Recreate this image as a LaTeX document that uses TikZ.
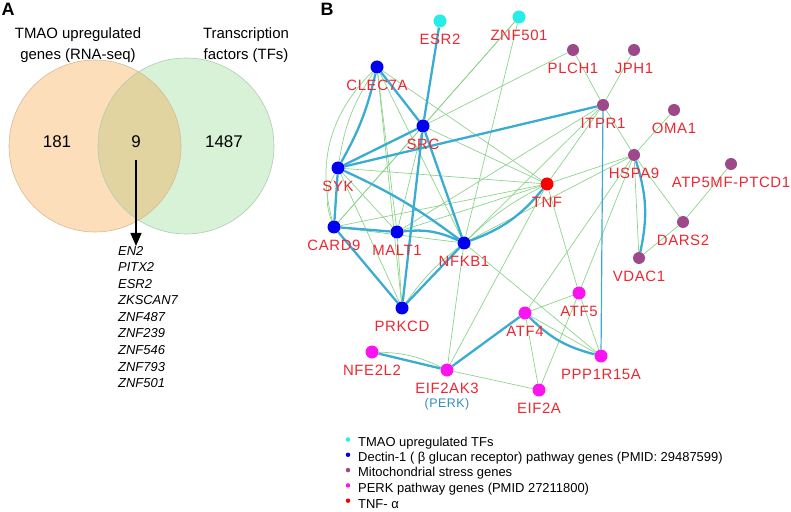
\documentclass[tikz,border=0pt]{standalone}
\usepackage{fontspec}
\setmainfont{Liberation Sans}
\newfontfamily\genelabelfont[LetterSpace=4]{Liberation Sans}
\usepackage{tikz}
\usetikzlibrary{positioning, arrows.meta, backgrounds}
\definecolor{vennleft}{RGB}{252, 222, 186}
\definecolor{vennright}{RGB}{216, 242, 216}
\definecolor{vennboth}{RGB}{226, 212, 160}
\definecolor{vennleftline}{RGB}{214, 186, 150}
\definecolor{vennrightline}{RGB}{176, 204, 176}
\definecolor{tfcyan}{RGB}{40, 236, 230}
\definecolor{dectinblue}{RGB}{0, 0, 238}
\definecolor{mitopurple}{RGB}{158, 72, 140}
\definecolor{perkmagenta}{RGB}{250, 20, 240}
\definecolor{tnfred}{RGB}{250, 0, 0}
\definecolor{genered}{RGB}{235, 40, 50}
\definecolor{perkblue}{RGB}{50, 140, 200}
\definecolor{edgeblue}{RGB}{58, 172, 210}
\definecolor{edgegreen}{RGB}{140, 212, 140}

\begin{document}
\begin{tikzpicture}[x=1bp, y=-1bp,
    gene/.style={circle, inner sep=0pt, minimum size=13bp},
    tfgene/.style={gene, fill=tfcyan},
    dectingene/.style={gene, fill=dectinblue},
    mitogene/.style={gene, fill=mitopurple, minimum size=12bp},
    perkgene/.style={gene, fill=perkmagenta},
    tnfgene/.style={gene, fill=tnfred},
    every label/.style={text=genered, inner sep=0pt, font=\genelabelfont\fontsize{15}{17}\selectfont},
    label distance=6.5bp,
    hublink/.style={line width=2.3bp, draw=edgeblue},
    link/.style={line width=0.7bp, draw=edgegreen},
    panel/.style={inner sep=0pt, font=\bfseries\fontsize{18}{18}\selectfont},
    venntitle/.style={inner sep=0pt, align=center, font=\fontsize{15}{21}\selectfont},
    vennnum/.style={inner sep=0pt, font=\fontsize{17}{17}\selectfont},
    legdot/.style={circle, inner sep=0pt, minimum size=4.5bp},
    legtext/.style={anchor=west, inner sep=0pt, font=\fontsize{13}{15}\selectfont}
]
    \useasboundingbox (0,0) rectangle (791,512);

    % Diagrama de Venn
    \node (panelA) [panel] at (8,9) {A};
    \fill[vennleft] (95,146) circle[radius=86];
    \fill[vennright] (186,146) circle[radius=88];
    \begin{scope}
        \clip (95,146) circle[radius=86];
        \fill[vennboth] (186,146) circle[radius=88];
    \end{scope}
    \draw[vennleftline, line width=0.6bp] (95,146) circle[radius=86];
    \draw[vennrightline, line width=0.6bp] (186,146) circle[radius=88];

    \node (tmaotitle) [venntitle] at (78,45) {TMAO upregulated\\genes (RNA-seq)};
    \node (tftitle) [venntitle] at (246,45) {Transcription\\factors (TFs)};
    \node (n181) [vennnum] at (57,142) {181};
    \node (nine) [vennnum] at (136,142) {9};
    \node (n1487) [vennnum] at (224,142) {1487};
    \node (tflist) [anchor=north west, inner sep=0pt, align=left,
        font=\itshape\fontsize{13}{16.6}\selectfont] at (118,246)
        {EN2\\PITX2\\ESR2\\ZKSCAN7\\ZNF487\\ZNF239\\ZNF546\\ZNF793\\ZNF501};
    \draw[-{Triangle[length=13bp, width=11bp]}, line width=1.3bp, shorten <=12bp]
        (nine) -- (nine |- tflist.north);

    % Red
    \node (panelB) [panel] at (327,9) {B};

    \node (esr2) [tfgene, label=below:ESR2] at (440,21) {};
    \node (znf501) [tfgene, label=below:ZNF501] at (519,17) {};

    \node (clec7a) [dectingene, label=below:CLEC7A] at (377,67) {};
    \node (src) [dectingene, label=below:SRC] at (423,126) {};
    \node (syk) [dectingene, label=below:SYK] at (338,168) {};
    \node (card9) [dectingene, label=below:CARD9] at (334,227) {};
    \node (malt1) [dectingene, label=below:MALT1] at (397,232) {};
    \node (nfkb1) [dectingene, label=below:NFKB1] at (464,243) {};
    \node (prkcd) [dectingene, label=below:PRKCD] at (402,308) {};

    \node (tnf) [tnfgene, label=below:TNF] at (547,184) {};

    \node (plch1) [mitogene, label=below:PLCH1] at (573,50) {};
    \node (jph1) [mitogene, label=below:JPH1] at (634,50) {};
    \node (itpr1) [mitogene, label=below:ITPR1] at (603,105) {};
    \node (oma1) [mitogene, label=below:OMA1] at (674,110) {};
    \node (hspa9) [mitogene, label=below:HSPA9] at (634,155) {};
    \node (atp5mf) [mitogene, label=below:ATP5MF-PTCD1] at (731,164) {};
    \node (dars2) [mitogene, label=below:DARS2] at (683,222) {};
    \node (vdac1) [mitogene, label=below:VDAC1] at (639,258) {};

    \node (atf5) [perkgene, label=below:ATF5] at (579,293) {};
    \node (atf4) [perkgene, label=below:ATF4] at (525,313) {};
    \node (nfe2l2) [perkgene, label=below:NFE2L2] at (372,352) {};
    \node (eif2ak3) [perkgene, label=below:EIF2AK3] at (447,370) {};
    \node (perk) [below=22bp of eif2ak3, inner sep=0pt, text=perkblue,
        font=\genelabelfont\fontsize{12.5}{14}\selectfont] {(PERK)};
    \node (ppp1r15a) [perkgene, label=below:PPP1R15A] at (601,356) {};
    \node (eif2a) [perkgene, label=below:EIF2A] at (539,390) {};

    \begin{scope}[on background layer]
        % enlaces finos
        \foreach \a/\b in {clec7a/malt1, clec7a/prkcd, clec7a/tnf, clec7a/nfkb1,
            znf501/src, znf501/nfkb1, znf501/card9, plch1/src,
            itpr1/plch1, itpr1/jph1, itpr1/hspa9, itpr1/tnf, itpr1/nfkb1, itpr1/malt1,
            hspa9/oma1, hspa9/dars2, hspa9/vdac1, hspa9/tnf, hspa9/atf4, hspa9/atf5, hspa9/nfkb1,
            dars2/atp5mf, dars2/vdac1,
            tnf/syk, tnf/card9, tnf/malt1, tnf/src, tnf/atf5, tnf/eif2ak3,
            nfkb1/ppp1r15a, nfkb1/eif2ak3, nfkb1/card9,
            src/card9, src/malt1, syk/prkcd, syk/malt1, prkcd/malt1,
            atf4/atf5, atf5/ppp1r15a, atf4/eif2a, atf5/eif2a, eif2ak3/eif2a, atf4/ppp1r15a}
            \draw[link] (\a) -- (\b);
        \draw[link] (clec7a) to[bend right=12] (syk);
        \draw[link] (syk) to[bend right=25] (card9);
        \draw[link] (clec7a) to[bend right=30] (card9);
        \draw[link] (nfkb1) to[bend left=8] (tnf);
        \draw[link] (nfkb1) to[bend right=8] (prkcd);
        \draw[link] (nfe2l2) to[bend left=12] (eif2ak3);

        % enlaces gruesos
        \foreach \a/\b in {esr2/src, clec7a/src, syk/src, syk/itpr1, syk/card9,
            src/nfkb1, src/prkcd, card9/malt1, card9/prkcd, nfkb1/prkcd,
            atf4/eif2ak3, nfe2l2/eif2ak3}
            \draw[hublink] (\a) -- (\b);
        \draw[hublink] (clec7a) to[bend left=8] (syk);
        \draw[hublink] (syk) to[bend left=6] (nfkb1);
        \draw[hublink] (malt1) to[bend left=15] (nfkb1);
        \draw[hublink] (nfkb1) to[bend right=15] (tnf);
        \draw[hublink] (hspa9) to[bend left=15] (vdac1);
        \draw[hublink] (atf4) to[bend right=15] (ppp1r15a);
        \draw[edgeblue, line width=1.2bp] (itpr1) -- (ppp1r15a);
    \end{scope}

    % Leyenda
    \foreach \col/\txt [count=\i] in {tfcyan/{TMAO upregulated TFs},
        dectinblue/{Dectin-1 ( β glucan receptor) pathway genes (PMID: 29487599)},
        mitopurple/{Mitochondrial stress genes},
        perkmagenta/{PERK pathway genes (PMID 27211800)},
        tnfred/{TNF- α}}
    {
        \node (legdot\i) [legdot, fill=\col] at (348, {439.5+15.3*(\i-1)}) {};
        \node (legtext\i) [legtext] at (358, {443+15.3*(\i-1)}) {\txt};
    }
\end{tikzpicture}
\end{document}
